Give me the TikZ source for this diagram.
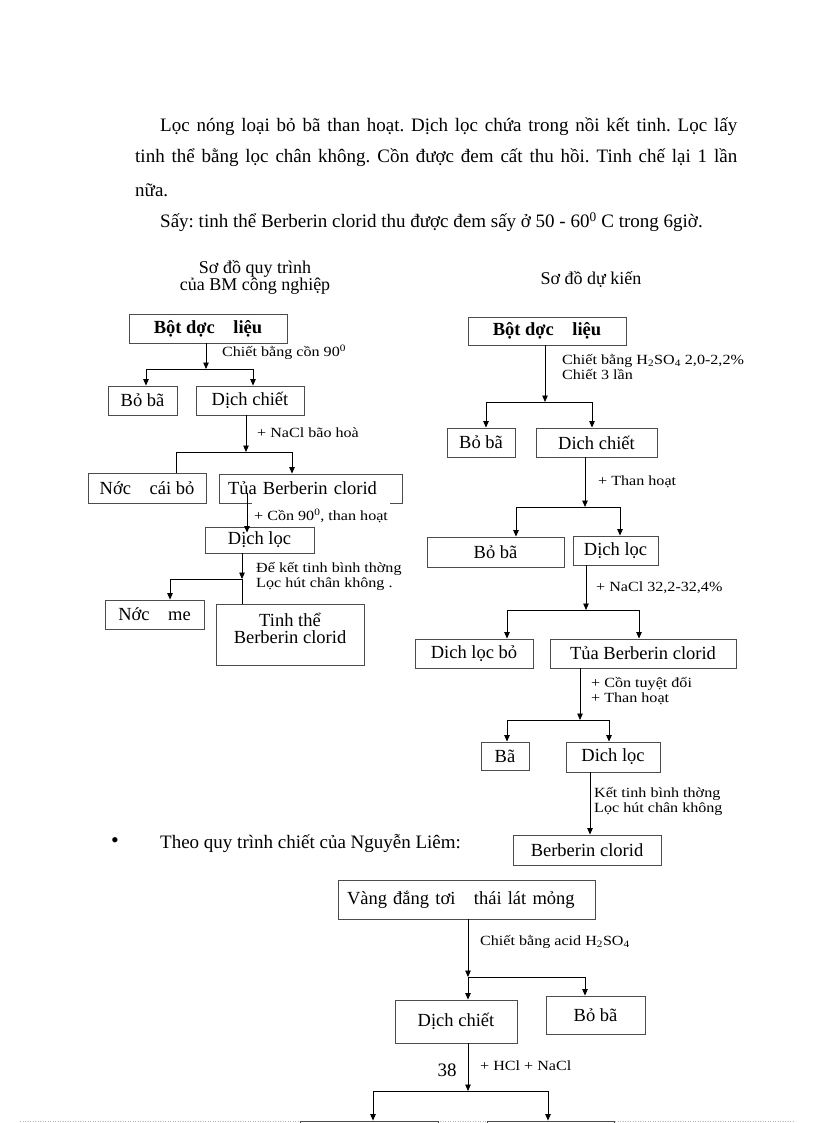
\documentclass[tikz,border=0pt]{standalone}
\usepackage{fontspec}
\setmainfont{Liberation Serif}
\newfontfamily\lblfam[FakeStretch=1.15]{Liberation Serif}
\usetikzlibrary{arrows.meta}
\newcommand\bodyf{\fontsize{19}{21}\selectfont}
\newcommand\bxf{\fontsize{18.5}{19}\selectfont}
\newcommand\lblf{\lblfam\fontsize{14}{15}\selectfont}
\newcommand\headf{\fontsize{18}{17}\selectfont}
\frenchspacing
\begin{document}
\begin{tikzpicture}[x=1pt,y=-1pt,
 bx/.style={draw=black!70, line width=0.9pt, inner sep=0pt, font=\bxf},
 lbl/.style={anchor=west, inner sep=0pt, font=\lblf, align=left},
 body/.style={anchor=west, inner sep=0pt, font=\bodyf},
 ln/.style={line width=0.8pt},
 arr/.style={ln, -{Triangle[length=6.5pt,width=5.5pt]}}]
\useasboundingbox[fill=white] (0,0) rectangle (816,1123);

% ---- body text
\node[body] (t1) at (160,127) {\makebox[577pt][s]{Lọc nóng loại bỏ bã than hoạt. Dịch lọc chứa trong nồi kết tinh. Lọc lấy}};
\node[body] (t2) at (135,158) {\makebox[602pt][s]{tinh thể bằng lọc chân không. Cồn được đem cất thu hồi. Tinh chế lại 1 lần}};
\node[body] (t3) at (135,190) {nữa.};
\node[body] (t4) at (160,222) {Sấy: tinh thể Berberin clorid thu được đem sấy ở 50 - 60\textsuperscript{0} C trong 6giờ.};

\node[font=\headf, align=center, inner sep=0pt] (h1) at (255,277.5) {Sơ đồ quy trình\\của BM công nghiệp};
\node[font=\headf, inner sep=0pt] (h2) at (591,279) {Sơ đồ dự kiến};

% ---- left diagram
\node[bx, font=\bxf\bfseries, minimum width=158pt, minimum height=29pt] (L1) at (208,328.5) {Bột dợc\quad liệu};
\node[lbl] (Lc1) at (222,352) {Chiết bằng cồn 90\textsuperscript{0}};
\node[bx, minimum width=69pt, minimum height=29pt] (Lb) at (142.5,400.5) {Bỏ bã};
\node[bx, minimum width=108pt, minimum height=29pt] (Ld) at (250,400.5) {Dịch chiết};
\node[lbl] (Lc2) at (257,433) {+ NaCl bão hoà};
\node[bx, minimum width=118pt, minimum height=30pt] (Ln) at (147,488) {Nớc\quad cái bỏ};
\node[bx, minimum width=183pt, minimum height=29pt, text width=165pt, align=left] (Lt) at (310.5,488.5) {Tủa Berberin clorid};
\node[lbl, fill=white, minimum height=28pt, inner xsep=2pt] (Lc3) at (252,516) {+ Cồn 90\textsuperscript{0}, than hoạt};
\node[bx, minimum width=109pt, minimum height=26pt] (Ldl) at (259.5,540) {Dịch lọc};
\node[lbl] (Lc4) at (256,576.5) {Để kết tinh bình thờng\\Lọc hút chân không .};
\node[bx, minimum width=99pt, minimum height=29pt] (Lnm) at (154.5,614.5) {Nớc\quad me};
\node[bx, font=\fontsize{18.5}{17}\selectfont, minimum width=148pt, minimum height=61pt, align=center] (Ltt) at (290,634.5) {Tinh thể\\Berberin clorid\\[-5pt]\mbox{}};

% ---- right diagram
\node[bx, font=\bxf\bfseries, minimum width=158pt, minimum height=28pt] (R1) at (547,331) {Bột dợc\quad liệu};
\node[lbl] (Rc1) at (562,367) {Chiết bằng H\textsubscript{2}SO\textsubscript{4} 2,0-2,2\%\\Chiết 3 lần};
\node[bx, minimum width=68pt, minimum height=29pt] (Rb1) at (481,442.5) {Bỏ bã};
\node[bx, minimum width=121pt, minimum height=29pt] (Rd1) at (596.5,442.5) {Dich chiết};
\node[lbl] (Rc2) at (598,482) {+ Than hoạt};
\node[bx, minimum width=137pt, minimum height=30pt] (Rb2) at (495.5,552) {Bỏ bã};
\node[bx, minimum width=85pt, minimum height=29pt] (Rdl) at (615.5,550.5) {Dịch lọc};
\node[lbl] (Rc3) at (596,588) {+ NaCl 32,2-32,4\%};
\node[bx, minimum width=118pt, minimum height=29pt] (Rdb) at (474,653.5) {Dich lọc bỏ};
\node[bx, minimum width=186pt, minimum height=29pt] (Rt) at (643,653.5) {Tủa Berberin clorid};
\node[lbl] (Rc4) at (591,691) {+ Cồn tuyệt đối\\+ Than hoạt};
\node[bx, minimum width=48pt, minimum height=28pt] (Rba) at (505,756) {Bã};
\node[bx, minimum width=94pt, minimum height=30pt] (Rdl2) at (613,757) {Dich lọc};
\node[lbl] (Rc5) at (594,801) {Kết tinh bình thờng\\Lọc hút chân không};
\node[bx, minimum width=148pt, minimum height=30pt] (Rbc) at (587,850) {Berberin clorid};

% ---- bullet
\node[font=\fontsize{22}{22}\selectfont, inner sep=0pt] (bul) at (115,843) {\textbullet};
\node[body] (t5) at (160,843) {Theo quy trình chiết của Nguyễn Liêm:};

% ---- bottom diagram
\draw[gray!55, line width=0.8pt, dash pattern=on 1pt off 1.5pt] (20,1121.5) -- (795,1121.5);
\node[bx, minimum width=257pt, minimum height=39pt, text width=239pt, align=left] (B1) at (466.5,899.5) {Vàng đắng tơi\quad thái lát mỏng};
\node[lbl] (Bc1) at (480,942) {Chiết bằng acid H\textsubscript{2}SO\textsubscript{4}};
\node[bx, minimum width=122pt, minimum height=43pt] (B2) at (456,1021.5) {Dịch chiết};
\node[bx, minimum width=99pt, minimum height=38pt] (B3) at (595.5,1015) {Bỏ bã};
\node[font=\bodyf, inner sep=0pt] (pg) at (447,1070) {38};
\node[lbl] (Bc2) at (480,1066) {+ HCl + NaCl};
\node[bx, minimum width=138pt, minimum height=40pt] (B4) at (369,1141) {};
\node[bx, minimum width=127pt, minimum height=40pt] (B5) at (550.5,1141) {};

% ---- left connectors
\coordinate (Ly1) at (0,369);
\coordinate (Lx0) at (206,0);
\coordinate (Lxb) at (146,0);
\coordinate (Lxd) at (253,0);
\draw[arr] (L1.south -| Lx0) -- (Lx0 |- Ly1);
\draw[ln] (Lxb |- Ly1) -- (Lxd |- Ly1);
\draw[arr] (Lxb |- Ly1) -- (Lxb |- Lb.north);
\draw[arr] (Lxd |- Ly1) -- (Lxd |- Ld.north);

\coordinate (Ly2) at (0,452);
\coordinate (Lx2) at (246,0);
\coordinate (Lxn) at (176,0);
\coordinate (Lxt) at (292,0);
\draw[arr] (Ld.south -| Lx2) -- (Lx2 |- Ly2);
\draw[ln] (Lxn |- Ly2) -- (Lxt |- Ly2);
\draw[ln] (Lxn |- Ly2) -- (Lxn |- Ln.north);
\draw[arr] (Lxt |- Ly2) -- (Lxt |- Lt.north);

\coordinate (Lx3) at (247,0);
\coordinate (Lt3) at ([yshift=10pt]Lt.south);
\coordinate (Ldl3) at ([yshift=-6pt]Ldl.north);
\draw[arr] (Lt3 -| Lx3) -- (Ldl3 -| Lx3);

\coordinate (Ly3) at (0,579);
\coordinate (Lx4) at (242,0);
\coordinate (Lxm) at (170,0);
\draw[arr] (Ldl.south -| Lx4) -- (Lx4 |- Ly3);
\draw[ln] (Lx4 |- Ly3) -- (Lx4 |- Ltt.north);
\draw[ln] (Lxm |- Ly3) -- (Lx4 |- Ly3);
\draw[arr] (Lxm |- Ly3) -- (Lxm |- Lnm.north);

% ---- right connectors
\coordinate (Ry1) at (0,402);
\coordinate (Rx1) at (545,0);
\coordinate (Rxa) at (486,0);
\coordinate (Rxb) at (592,0);
\draw[arr] (R1.south -| Rx1) -- (Rx1 |- Ry1);
\draw[ln] (Rxa |- Ry1) -- (Rxb |- Ry1);
\draw[arr] (Rxa |- Ry1) -- (Rxa |- Rb1.north);
\draw[arr] (Rxb |- Ry1) -- (Rxb |- Rd1.north);

\coordinate (Ry2) at (0,507);
\coordinate (Rx2) at (585,0);
\coordinate (Rxc) at (516,0);
\coordinate (Rxd) at (620,0);
\draw[arr] (Rd1.south -| Rx2) -- (Rx2 |- Ry2);
\draw[ln] (Rxc |- Ry2) -- (Rxd |- Ry2);
\draw[arr] (Rxc |- Ry2) -- (Rxc |- Rb2.north);
\draw[arr] (Rxd |- Ry2) -- (Rxd |- Rdl.north);

\coordinate (Ry3) at (0,610);
\coordinate (Rx3) at (586,0);
\coordinate (Rxe) at (507,0);
\coordinate (Rxf) at (639,0);
\draw[arr] (Rdl.south -| Rx3) -- (Rx3 |- Ry3);
\draw[ln] (Rxe |- Ry3) -- (Rxf |- Ry3);
\draw[arr] (Rxe |- Ry3) -- (Rxe |- Rdb.north);
\draw[arr] (Rxf |- Ry3) -- (Rxf |- Rt.north);

\coordinate (Ry4) at (0,720);
\coordinate (Rx4) at (580,0);
\coordinate (Rxg) at (507,0);
\coordinate (Rxh) at (609,0);
\draw[arr] (Rt.south -| Rx4) -- (Rx4 |- Ry4);
\draw[ln] (Rxg |- Ry4) -- (Rxh |- Ry4);
\draw[arr] (Rxg |- Ry4) -- (Rxg |- Rba.north);
\draw[arr] (Rxh |- Ry4) -- (Rxh |- Rdl2.north);

\coordinate (Rx5) at (590,0);
\draw[arr] (Rdl2.south -| Rx5) -- (Rx5 |- Rbc.north);

% ---- bottom connectors
\coordinate (By1) at (0,977);
\coordinate (Bx1) at (468,0);
\coordinate (Bx2) at (585,0);
\draw[arr] (B1.south -| Bx1) -- (Bx1 |- By1);
\draw[arr] (Bx1 |- By1) -- (Bx1 |- B2.north);
\draw[ln] (Bx1 |- By1) -- (Bx2 |- By1);
\draw[arr] (Bx2 |- By1) -- (Bx2 |- B3.north);

\coordinate (By2) at (0,1091);
\coordinate (Bx3) at (373,0);
\coordinate (Bx4) at (548,0);
\draw[arr] (B2.south -| Bx1) -- (Bx1 |- By2);
\draw[ln] (Bx3 |- By2) -- (Bx4 |- By2);
\draw[arr] (Bx3 |- By2) -- (Bx3 |- B4.north);
\draw[arr] (Bx4 |- By2) -- (Bx4 |- B5.north);
\end{tikzpicture}
\end{document}
